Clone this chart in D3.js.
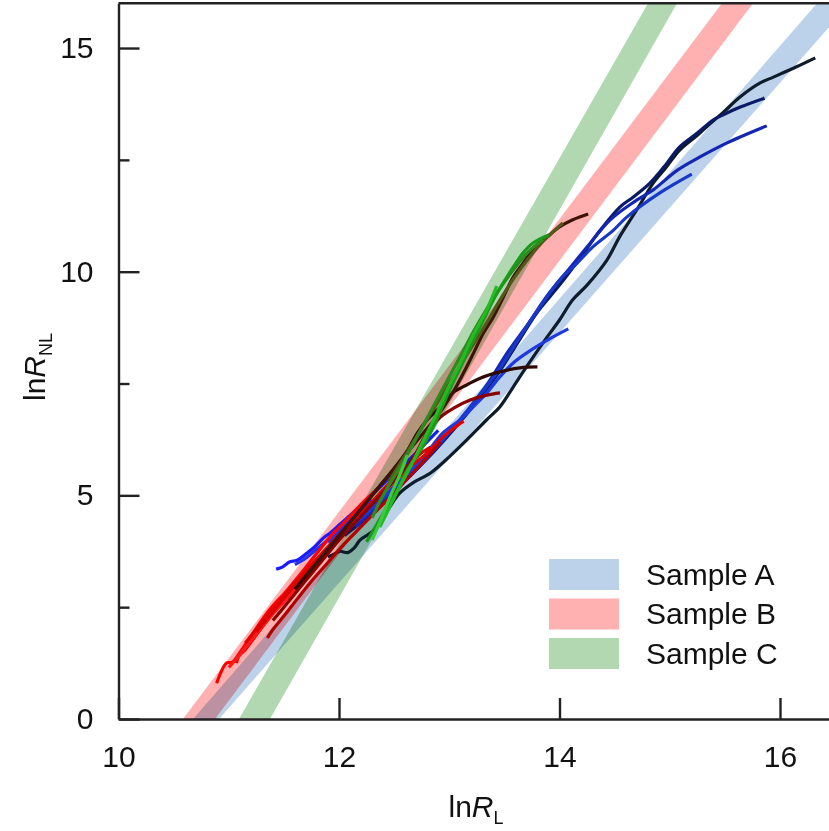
<!DOCTYPE html>
<html>
<head>
<meta charset="utf-8">
<script src="https://cdn.jsdelivr.net/npm/d3@7"></script>
<style>
  html, body { margin: 0; padding: 0; background: #fff; }
  svg { display: block; font-family: "Liberation Sans", Arial, sans-serif; }
</style>
</head>
<body>
<div id="chart"></div>
<script>
// ---- values ----
const xTicks = [10, 12, 14, 16];
const yTicks = [0, 5, 10, 15];
const yMinorTicks = [2.5, 7.5, 12.5];
const sampleNames = ["Sample A", "Sample B", "Sample C"];

// bands: lnRL of left / right edge at lnRNL = 0 and at lnRNL = 16
const bandLevels = [0, 16];
const bandLeft  = [[10.676, 16.336], [10.585, 15.474], [11.093, 14.803]];
const bandRight = [[10.912, 16.635], [10.875, 15.755], [11.374, 15.066]];

// measured curves, points are [lnRL, lnRNL]
const curvesA = [
  [[11.90,3.62],[11.98,3.72],[12.01,3.75],[12.08,3.72],[12.14,3.83],[12.19,4.0],[12.28,4.15],[12.35,4.3],[12.46,4.74],[12.55,5.05],[12.67,5.28],[12.83,5.5],[13.0,5.86],[13.16,6.24],[13.34,6.69],[13.46,6.98],[13.58,7.42],[13.7,7.87],[13.85,8.41],[14.0,8.92],[14.12,9.37],[14.25,9.7],[14.43,10.26],[14.55,10.8],[14.70,11.38],[14.85,11.98],[14.97,12.34],[15.09,12.72],[15.25,13.05],[15.37,13.32],[15.48,13.55],[15.64,13.91],[15.82,14.22],[15.94,14.35],[16.15,14.58],[16.32,14.78]],
  [[12.05,4.1],[12.25,4.5],[12.45,4.95],[12.65,5.45],[12.85,5.95],[13.05,6.5],[13.25,7.1],[13.45,7.75],[13.63,8.45],[13.8,9.1],[14.0,9.7],[14.2,10.35],[14.37,10.93],[14.55,11.45],[14.67,11.67],[14.82,11.98],[14.95,12.35],[15.09,12.79],[15.25,13.1],[15.40,13.40],[15.48,13.50],[15.64,13.68],[15.86,13.88]],
  [[12.15,4.3],[12.35,4.75],[12.55,5.2],[12.75,5.7],[12.95,6.25],[13.15,6.85],[13.35,7.5],[13.53,8.2],[13.72,8.85],[13.9,9.5],[14.1,10.1],[14.25,10.55],[14.46,11.16],[14.70,11.60],[14.85,11.83],[15.07,12.27],[15.27,12.56],[15.52,12.88],[15.88,13.26]],
  [[12.05,4.2],[12.25,4.6],[12.45,5.05],[12.65,5.5],[12.85,6.0],[13.05,6.55],[13.25,7.15],[13.45,7.8],[13.63,8.5],[13.82,9.2],[14.0,9.81],[14.16,10.19],[14.3,10.55],[14.49,10.93],[14.61,11.22],[14.91,11.76],[15.2,12.18]],
  [[11.9,3.95],[12.2,4.5],[12.5,5.2],[12.75,5.8],[12.94,6.39],[13.1,6.69],[13.19,6.91],[13.34,7.29],[13.46,7.65],[13.58,7.96],[13.7,8.18],[13.89,8.47],[14.08,8.72]],
  [[11.43,3.35],[11.49,3.4],[11.55,3.51],[11.62,3.55],[11.71,3.71],[11.78,3.85],[11.86,4.05],[11.92,4.16],[11.98,4.29],[12.1,4.55],[12.25,4.9],[12.4,5.25],[12.55,5.6],[12.7,5.95],[12.9,6.45]],
  [[11.6,3.45],[11.7,3.6],[11.8,3.8],[11.9,4.0],[12.0,4.2],[12.15,4.55],[12.3,4.9]]
];
const curvesB = [
  [[10.89,0.80],[10.98,1.25],[11.03,1.27],[11.10,1.48],[11.22,1.92],[11.37,2.44],[11.53,2.88],[11.68,3.33],[11.80,3.71],[11.95,4.16],[12.07,4.45],[12.2,4.8],[12.35,5.15]],
  [[11.07,1.25],[11.09,1.4],[11.15,1.55],[11.28,1.98],[11.42,2.42],[11.57,2.86],[11.72,3.3],[11.87,3.72],[12.02,4.12],[12.17,4.5],[12.32,4.9],[12.48,5.3],[12.62,5.65]],
  [[11.0,1.15],[11.12,1.5],[11.25,1.9],[11.4,2.35],[11.55,2.75],[11.7,3.2],[11.85,3.6],[12.0,4.0]],
  [[11.25,1.95],[11.4,2.4],[11.55,2.85],[11.7,3.25],[11.85,3.65],[12.0,4.05],[12.15,4.45],[12.3,4.85],[12.45,5.25],[12.6,5.6],[12.75,5.95],[12.83,6.08]],
  [[11.15,1.7],[11.3,2.15],[11.45,2.6],[11.6,3.05],[11.75,3.45],[11.9,3.85],[12.05,4.25],[12.2,4.6],[12.35,4.95],[12.5,5.3],[12.65,5.65],[12.8,5.95],[12.94,6.3],[13.05,6.52],[13.13,6.66]],
  [[11.35,1.81],[11.40,2.0],[11.5,2.3],[11.62,2.68],[11.75,3.08],[11.9,3.5],[12.05,3.92],[12.2,4.3],[12.35,4.68],[12.5,5.05],[12.65,5.45],[12.8,5.85],[12.92,6.2]],
  [[11.4,2.2],[11.55,2.65],[11.7,3.1],[11.85,3.55],[12.0,4.0],[12.15,4.4],[12.3,4.8],[12.45,5.2],[12.6,5.6],[12.70,5.95],[12.80,6.40],[12.92,6.75],[13.04,6.95],[13.19,7.13],[13.34,7.24],[13.46,7.29]],
  [[11.6,2.9],[11.75,3.35],[11.9,3.8],[12.05,4.25],[12.2,4.7],[12.35,5.15],[12.5,5.6],[12.62,6.0],[12.71,6.39],[12.80,6.69],[12.92,6.98],[13.03,7.29],[13.16,7.47],[13.28,7.62],[13.46,7.76],[13.64,7.85],[13.80,7.87]],
  [[11.7,3.2],[11.85,3.65],[12.0,4.1],[12.15,4.55],[12.3,5.0],[12.45,5.45],[12.6,5.9],[12.75,6.35],[12.9,6.8],[13.03,7.29],[13.13,7.74],[13.22,8.18],[13.31,8.63],[13.40,8.99],[13.49,9.43],[13.58,9.88],[13.67,10.19],[13.76,10.49],[13.89,10.78],[14.0,11.0],[14.12,11.16],[14.26,11.29]]
];
const curvesC = [
  [[12.45,5.3],[12.6,5.9],[12.75,6.5],[12.9,7.1],[13.05,7.7],[13.2,8.3],[13.35,8.9],[13.48,9.45],[13.6,9.9],[13.72,10.3],[13.84,10.65],[13.94,10.89],[14.03,11.09]],
  [[12.3,4.5],[12.4,5.0],[12.52,5.5],[12.64,6.0],[12.76,6.55],[12.88,7.1],[13.0,7.65],[13.12,8.2],[13.24,8.75],[13.36,9.25],[13.48,9.7],[13.6,10.1],[13.72,10.45],[13.85,10.72]],
  [[12.25,3.96],[12.42,4.67],[12.53,5.12],[12.62,5.57],[12.74,6.01],[12.85,6.5],[12.94,7.0],[13.03,7.5],[13.13,8.0],[13.22,8.47],[13.31,8.92],[13.40,9.37],[13.49,9.75],[13.58,10.1],[13.67,10.42],[13.76,10.64],[13.90,10.82]],
  [[12.37,4.29],[12.46,4.74],[12.55,5.19],[12.66,5.7],[12.77,6.25],[12.88,6.8],[12.98,7.35],[13.10,7.95],[13.21,8.55],[13.34,9.15],[13.43,9.68]],
  [[12.3,4.0],[12.38,4.45],[12.46,4.95],[12.55,5.45],[12.62,5.9]]
];

// ---- styles ----
const bandColors = ["#bcd2eb", "#ffb0b0", "#b2d8b2"];
const colorsA = ["#0e1c2c", "#0b1a66", "#1426b4", "#1838c8", "#1c3ae0", "#1a1aff", "#2233ee"];
const colorsB = ["#ff0000", "#f00000", "#ff1a1a", "#d80000", "#e00000", "#b00000", "#8a0000", "#2e0a04", "#3e1408"];
const colorsC = ["#56581a", "#2f8a1e", "#1a9a1a", "#22bb22", "#3acc3a"];

const width = 829, height = 831;
const margin = { top: 3.3, left: 118.5, bottom: 112 };

const x = d3.scaleLinear().domain([10, 16.5]).range([margin.left, margin.left + 6.5 * 110.25]);
const y = d3.scaleLinear().domain([0, 16]).range([height - margin.bottom, margin.top]);

const svg = d3.select("#chart").append("svg")
  .attr("width", width)
  .attr("height", height);

svg.append("rect").attr("width", width).attr("height", height).attr("fill", "#fff");

svg.append("clipPath").attr("id", "plot")
  .append("rect")
  .attr("x", x(10)).attr("y", y(16))
  .attr("width", width - x(10)).attr("height", y(0) - y(16));

const plot = svg.append("g").attr("clip-path", "url(#plot)");

// bands
const area = d3.area()
  .y(d => y(d.level))
  .x0(d => x(d.l))
  .x1(d => x(d.r));

sampleNames.forEach((name, i) => {
  const pts = bandLevels.map((lv, k) => ({ level: lv, l: bandLeft[i][k], r: bandRight[i][k] }));
  plot.append("path")
    .attr("d", area(pts))
    .attr("fill", bandColors[i])
    .style("mix-blend-mode", "multiply");
});

// curves
const line = d3.line()
  .x(d => x(d[0]))
  .y(d => y(d[1]))
  .curve(d3.curveCatmullRom.alpha(0.5));

function drawCurves(curves, colors) {
  plot.append("g").selectAll("path")
    .data(curves)
    .enter()
    .append("path")
    .attr("d", line)
    .attr("fill", "none")
    .attr("stroke", (d, i) => colors[i % colors.length])
    .attr("stroke-width", 3.2)
    .attr("stroke-linejoin", "round");
}
drawCurves(curvesA, colorsA);
drawCurves(curvesB, colorsB);
drawCurves(curvesC, colorsC);

// axes
const axisColor = "#222";

const gx = svg.append("g")
  .attr("transform", `translate(0,${y(0)})`)
  .call(d3.axisBottom(x).tickValues(xTicks).tickFormat(d3.format("d"))
    .tickSizeInner(-21).tickSizeOuter(0).tickPadding(27));
gx.select(".domain").attr("stroke", axisColor).attr("stroke-width", 2.4);

const gy = svg.append("g")
  .attr("transform", `translate(${x(10)},0)`)
  .call(d3.axisLeft(y).tickValues(yTicks).tickFormat(d3.format("d"))
    .tickSizeInner(-21).tickSizeOuter(0).tickPadding(25));
gy.select(".domain").attr("stroke", axisColor).attr("stroke-width", 2.4);

svg.append("g")
  .attr("transform", `translate(${x(10)},0)`)
  .call(d3.axisLeft(y).tickValues(yMinorTicks).tickSizeInner(-11).tickSizeOuter(0).tickFormat(""))
  .call(g => g.select(".domain").remove());

svg.selectAll(".tick line").attr("stroke", axisColor).attr("stroke-width", 2.4);
svg.selectAll(".tick text").attr("fill", "#111").style("font-size", "30px")
  .style("font-family", "'Liberation Sans', Arial, sans-serif");

// top frame line
svg.append("line")
  .attr("x1", x(10)).attr("x2", width)
  .attr("y1", y(16)).attr("y2", y(16))
  .attr("stroke", axisColor).attr("stroke-width", 2.4);

// axis titles
const xt = svg.append("text")
  .attr("x", 476).attr("y", 817)
  .attr("text-anchor", "middle")
  .attr("fill", "#111")
  .style("font-size", "30px");
xt.append("tspan").text("ln");
xt.append("tspan").style("font-style", "italic").text("R");
xt.append("tspan").attr("dy", 7).style("font-size", "18px").text("L");

const yt = svg.append("text")
  .attr("transform", `translate(45,367) rotate(-90)`)
  .attr("text-anchor", "middle")
  .attr("fill", "#111")
  .style("font-size", "30px");
yt.append("tspan").text("ln");
yt.append("tspan").style("font-style", "italic").text("R");
yt.append("tspan").attr("dy", 7).style("font-size", "18px").text("NL");

// legend
const legend = svg.append("g").attr("transform", "translate(549,574)");
sampleNames.forEach((name, i) => {
  const row = legend.append("g").attr("transform", `translate(0,${i * 39.5})`);
  row.append("rect")
    .attr("x", 0).attr("y", -15)
    .attr("width", 70).attr("height", 31)
    .attr("fill", bandColors[i]);
  row.append("text")
    .attr("x", 97).attr("y", 0).attr("dy", "0.36em")
    .attr("fill", "#111")
    .style("font-size", "30px")
    .text(name);
});
</script>
</body>
</html>
